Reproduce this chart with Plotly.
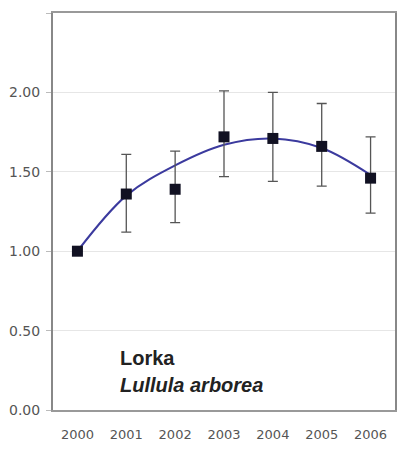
import plotly.graph_objects as go

years = ["2000", "2001", "2002", "2003", "2004", "2005", "2006"]
index_values = [1.00, 1.36, 1.39, 1.72, 1.71, 1.66, 1.46]
err_plus = [0.0, 0.25, 0.24, 0.29, 0.29, 0.27, 0.26]
err_minus = [0.0, 0.24, 0.21, 0.25, 0.27, 0.25, 0.22]
trend_values = [1.00, 1.35, 1.54, 1.67, 1.71, 1.65, 1.48]
y_ticks = [0.0, 0.5, 1.0, 1.5, 2.0, 2.5]

fig = go.Figure()

fig.add_trace(
    go.Scatter(
        x=years,
        y=trend_values,
        mode="lines",
        line=dict(color="#3b3a9e", width=2, shape="spline", smoothing=1.0),
        hoverinfo="skip",
    )
)

fig.add_trace(
    go.Scatter(
        x=years,
        y=index_values,
        mode="markers",
        marker=dict(symbol="square", size=11, color="#111122"),
        error_y=dict(
            type="data",
            symmetric=False,
            array=err_plus,
            arrayminus=err_minus,
            color="#555555",
            thickness=1.3,
            width=5,
        ),
    )
)

fig.add_annotation(
    x=0.83, y=0.33, xref="x", yref="y",
    text="<b>Lorka</b>", showarrow=False, xanchor="left",
    font=dict(family="Liberation Sans, Arial", size=20, color="#222222"),
)
fig.add_annotation(
    x=0.83, y=0.16, xref="x", yref="y",
    text="<b><i>Lullula arborea</i></b>", showarrow=False, xanchor="left",
    font=dict(family="Liberation Sans, Arial", size=20, color="#222222"),
)

# page body adds 8px, so the figure is a bit smaller than the window
fig.update_layout(
    width=398,
    height=438,
    margin=dict(l=45, r=11, t=5, b=36),
    paper_bgcolor="white",
    plot_bgcolor="white",
    showlegend=False,
    font=dict(family="DejaVu Sans", color="#555555"),
    xaxis=dict(
        type="category",
        range=[-0.5, 6.5],
        showgrid=False,
        showline=True,
        linecolor="#999999",
        linewidth=1.5,
        mirror=True,
        ticks="",
        ticklabelstandoff=12,
        automargin=False,
        tickfont=dict(size=13, color="#555555"),
    ),
    yaxis=dict(
        range=[0, 2.5],
        tickvals=y_ticks,
        tickformat=".2f",
        showgrid=True,
        gridcolor="#e6e6e6",
        gridwidth=1,
        showline=True,
        linecolor="#888888",
        linewidth=2,
        mirror=True,
        ticks="outside",
        ticklen=5,
        tickcolor="#bbbbbb",
        ticklabelstandoff=3,
        automargin=False,
        tickfont=dict(size=14, color="#555555"),
        zeroline=False,
    ),
)

fig.write_html("out.html", config={"displayModeBar": False})
